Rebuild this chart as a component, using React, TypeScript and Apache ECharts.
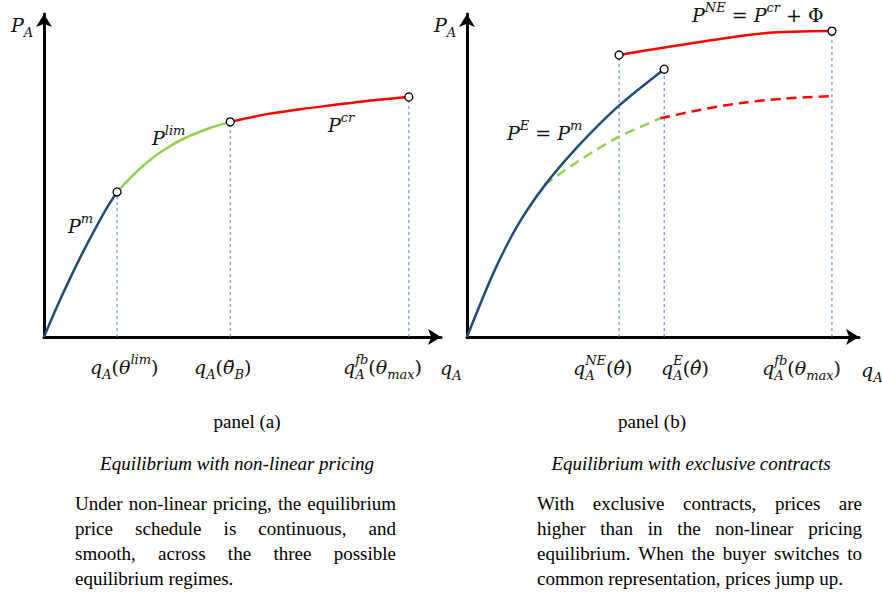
import React, { useEffect, useRef } from "react";
import * as echarts from "echarts";

// ---------- data (x = quantity, y = price, arbitrary units 0..10) ----------
// panel (a)
const pmA: [number, number][] = [[0, 0], [0.32, 0.92], [0.65, 1.8], [0.99, 2.65], [1.33, 3.44], [1.58, 3.99], [1.84, 4.49]];
const plimA: [number, number][] = [[1.84, 4.49], [2.25, 5.02], [2.67, 5.48], [3.1, 5.85], [3.5, 6.13], [4.18, 6.47], [4.69, 6.66]];
const pcrA: [number, number][] = [[4.69, 6.66], [5.62, 6.9], [6.5, 7.06], [7.28, 7.18], [8.14, 7.31], [9.19, 7.43]];
const knotsA: [number, number][] = [[1.84, 4.49], [4.69, 6.66], [9.19, 7.43]];
// panel (b)
const pmB: [number, number][] = [[0, 0], [0.67, 1.97], [1.27, 3.41], [1.95, 4.64], [2.8, 5.86], [3.82, 7.1], [5.03, 8.29]];
const plimDashB: [number, number][] = [[1.97, 4.71], [2.81, 5.42], [3.83, 6.17], [4.93, 6.77]];
const pcrDashB: [number, number][] = [[4.93, 6.77], [5.9, 7.02], [6.96, 7.24], [8.1, 7.38], [9.31, 7.46]];
const pneB: [number, number][] = [[3.88, 8.73], [5.94, 9.13], [7.65, 9.41], [9.31, 9.47]];
const knotsB: [number, number][] = [[3.88, 8.73], [5.03, 8.29], [9.31, 9.47]];

// tick / annotation texts (rich-text markup)
const xLabelsA = [
  "{it|q}{sub|A}{rm|(}{it|θ}{sup|lim}{rm|)}",
  "{it|q}{sub|A}{rm|(}{it|θ̆}{sub|B}{rm|)}",
  "{it|q}{subz|A}{sup|fb}{rm|(}{it|θ}{sub|max}{rm|)}",
];
const xLabelsB = [
  "{it|q}{subz|A}{sup|NE}{rm|(}{it|θ̂}{rm|)}",
  "{it|q}{subz|A}{sup|E}{rm|(}{it|θ̂}{rm|)}",
  "{it|q}{subz|A}{sup|fb}{rm|(}{it|θ}{sub|max}{rm|)}",
];
const curveLabelsA = ["{it|P}{sup|m}", "{it|P}{sup|lim}", "{it|P}{sup|cr}"];
const curveLabelsB = ["{it|P}{sup|NE}{rm| = }{it|P}{sup|cr}{rm| + Φ}", "{it|P}{sup|E}{rm| = }{it|P}{sup|m}"];
const axisY = "{it|P}{sub|A}";
const axisX = "{it|q}{sub|A}";

const panelTitles = ["panel (a)", "panel (b)"];
const panelSubtitles = ["Equilibrium with non-linear pricing", "Equilibrium with exclusive contracts"];
const paragraphA = [
  "Under non-linear pricing, the equilibrium",
  "price schedule is continuous, and",
  "smooth, across the three possible",
  "equilibrium regimes.",
];
const paragraphB = [
  "With exclusive contracts, prices are",
  "higher than in the non-linear pricing",
  "equilibrium. When the buyer switches to",
  "common representation, prices jump up.",
];

// ---------- styles ----------
const MATH_FONT = "DejaVu Serif";
const BODY_FONT = "Liberation Serif";
const BODY_SIZE = 19;
const BLUE = "#1F4E79";
const GREEN = "#92D050";
const RED = "#FF0000";
const GUIDE = "#4A7EC2";

const MAIN = 19;
const SMALL = 13;
const rich = {
  it: { fontFamily: MATH_FONT, fontStyle: "italic", fontSize: MAIN, lineHeight: 28, color: "#111", verticalAlign: "middle" },
  rm: { fontFamily: MATH_FONT, fontStyle: "normal", fontSize: MAIN, lineHeight: 28, color: "#111", verticalAlign: "middle" },
  sup: { fontFamily: MATH_FONT, fontStyle: "italic", fontSize: SMALL, lineHeight: 13, color: "#111", verticalAlign: "top" },
  sub: { fontFamily: MATH_FONT, fontStyle: "italic", fontSize: SMALL, lineHeight: 13, color: "#111", verticalAlign: "bottom" },
  subz: { fontFamily: MATH_FONT, fontStyle: "italic", fontSize: SMALL, lineHeight: 13, color: "#111", verticalAlign: "bottom", width: 0 },
};

function mathText(text: string, x: number, y: number) {
  return {
    type: "text",
    x,
    y,
    z: 10,
    style: { text, rich, align: "left", verticalAlign: "middle", fill: "#111" },
  };
}

function bodyText(text: string, x: number, y: number, italic = false, align = "left") {
  return {
    type: "text",
    x,
    y,
    z: 10,
    style: {
      text,
      fill: "#000",
      align,
      verticalAlign: "middle",
      fontFamily: BODY_FONT,
      fontSize: BODY_SIZE,
      fontStyle: italic ? "italic" : "normal",
    },
  };
}

function justified(lines: string[], left: number, right: number, y0: number, lh: number) {
  const ctx = document.createElement("canvas").getContext("2d") as CanvasRenderingContext2D;
  ctx.font = `${BODY_SIZE}px '${BODY_FONT}'`;
  const space = ctx.measureText(" ").width;
  const els: any[] = [];
  lines.forEach((line, i) => {
    const y = y0 + i * lh;
    const words = line.split(" ");
    if (i === lines.length - 1 || words.length < 2) {
      els.push(bodyText(line, left, y));
      return;
    }
    const ws = words.map((w) => ctx.measureText(w).width);
    const total = ws.reduce((a, b) => a + b, 0);
    const gap = (right - left - total) / (words.length - 1);
    if (Math.abs(gap - space) < 0.6) {
      els.push(bodyText(line, left, y));
      return;
    }
    let x = left;
    words.forEach((w, j) => {
      els.push(bodyText(w, x, y));
      x += ws[j] + gap;
    });
  });
  return els;
}

function axisDef(gridIndex: number) {
  return {
    type: "value",
    gridIndex,
    min: 0,
    max: 10,
    axisLine: {
      show: true,
      symbol: ["none", "arrow"],
      symbolSize: [12, 13],
      lineStyle: { color: "#000", width: 3 },
    },
    axisTick: { show: false },
    axisLabel: { show: false },
    splitLine: { show: false },
  };
}

function curve(data: [number, number][], color: string, idx: number, dashed = false) {
  return {
    type: "line",
    xAxisIndex: idx,
    yAxisIndex: idx,
    data,
    smooth: 0.3,
    showSymbol: false,
    z: 3,
    silent: true,
    lineStyle: { color, width: 2.5, type: dashed ? [10, 6] : "solid", cap: "butt" },
  };
}

function guides(knots: [number, number][], idx: number) {
  return knots.map((k) => ({
    type: "line",
    xAxisIndex: idx,
    yAxisIndex: idx,
    data: [[k[0], 0], [k[0], k[1]]],
    showSymbol: false,
    z: 2,
    silent: true,
    lineStyle: { color: GUIDE, width: 1, type: [3, 3] },
  }));
}

function knots(data: [number, number][], idx: number) {
  return {
    type: "scatter",
    xAxisIndex: idx,
    yAxisIndex: idx,
    data,
    symbol: "circle",
    symbolSize: 8,
    z: 5,
    silent: true,
    itemStyle: { color: "#fff", borderColor: "#000", borderWidth: 1.3, opacity: 1 },
  };
}

export default function App() {
  const ref = useRef<HTMLDivElement>(null);
  useEffect(() => {
    if (!ref.current) return;
    const chart = echarts.init(ref.current, undefined, { renderer: "svg" });
    const graphics: any[] = [
      // axis names
      mathText(axisY, 11, 25),
      mathText(axisX, 440, 368),
      mathText(axisY, 434, 25),
      mathText(axisX, 861, 370),
      // panel (a) curve labels
      mathText(curveLabelsA[0], 68, 226),
      mathText(curveLabelsA[1], 152, 138),
      mathText(curveLabelsA[2], 328, 125),
      // panel (a) x labels
      mathText(xLabelsA[0], 90, 367),
      mathText(xLabelsA[1], 194, 367),
      mathText(xLabelsA[2], 343, 367),
      // panel (b) curve labels
      mathText(curveLabelsB[0], 692, 15),
      mathText(curveLabelsB[1], 507, 133),
      // panel (b) x labels
      mathText(xLabelsB[0], 573, 368),
      mathText(xLabelsB[1], 661, 368),
      mathText(xLabelsB[2], 762, 368),
      // captions
      bodyText(panelTitles[0], 247, 421, false, "center"),
      bodyText(panelTitles[1], 652, 421, false, "center"),
      bodyText(panelSubtitles[0], 237, 463, true, "center"),
      bodyText(panelSubtitles[1], 691, 463, true, "center"),
      ...justified(paragraphA, 75, 396, 503, 25),
      ...justified(paragraphB, 537, 862, 503, 25),
    ];
    chart.setOption({
      animation: false,
      backgroundColor: "#fff",
      grid: [
        { left: 44, top: 14, width: 397, height: 323 },
        { left: 467, top: 14, width: 392, height: 323 },
      ],
      xAxis: [axisDef(0), axisDef(1)],
      yAxis: [axisDef(0), axisDef(1)],
      series: [
        ...guides(knotsA, 0),
        curve(pmA, BLUE, 0),
        curve(plimA, GREEN, 0),
        curve(pcrA, RED, 0),
        knots(knotsA, 0),
        ...guides(knotsB, 1),
        curve(plimDashB, GREEN, 1, true),
        curve(pcrDashB, RED, 1, true),
        curve(pmB, BLUE, 1),
        curve(pneB, RED, 1),
        knots(knotsB, 1),
      ],
      graphic: graphics,
    });
    return () => chart.dispose();
  }, []);
  return <div ref={ref} style={{ position: "absolute", left: 0, top: 0, width: 882, height: 594 }} />;
}
